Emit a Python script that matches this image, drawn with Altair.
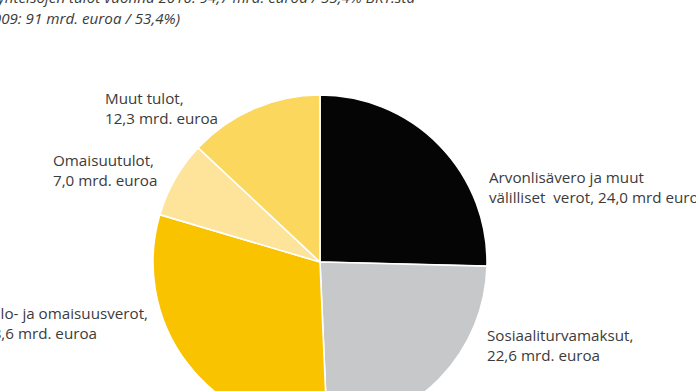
import altair as alt
import pandas as pd

# ---- data ----
categories = [
    "Arvonlisävero ja muut välilliset verot",
    "Sosiaaliturvamaksut",
    "Tulo- ja omaisuusverot",
    "Omaisuustulot",
    "Muut tulot",
]
values = [24.0, 22.6, 28.6, 7.0, 12.3]
colors = ["#050505", "#c6c8ca", "#f9c300", "#fde49a", "#fcd75e"]

label_line1 = ["Arvonlisävero ja muut", "Sosiaaliturvamaksut,", "Tulo- ja omaisuusverot,", "Omaisuutulot,", "Muut tulot,"]
label_line2 = ["välilliset\u00a0 verot, 24,0 mrd euroa", "22,6 mrd. euroa", "28,6 mrd. euroa", "7,0 mrd. euroa", "12,3 mrd. euroa"]

title_lines = [
    "Julkisyhteisöjen tulot vuonna 2010: 94,7 mrd. euroa / 55,4% BKT:sta",
    "(2009: 91 mrd. euroa / 53,4%)",
]

# ---- styling / layout (not data) ----
FONT = "Open Sans"
FS = 15.2
TXT = "#3b3b3b"
CX, CY, R = 320, 262, 167

pie_df = pd.DataFrame({"category": categories, "value": values, "order": list(range(len(values)))})

pie = alt.Chart(pie_df).mark_arc(outerRadius=R, stroke="white", strokeWidth=1.6).encode(
    theta=alt.Theta("value:Q", stack=True),
    color=alt.Color("category:N", scale=alt.Scale(domain=categories, range=colors), legend=None),
    order=alt.Order("order:Q"),
    x=alt.value(CX),
    y=alt.value(CY),
)


def txt(s, x, y, align="left", italic=False):
    return alt.Chart(pd.DataFrame({"t": [s]})).mark_text(
        align=align, baseline="alphabetic", font=FONT, fontSize=FS, color=TXT,
        fontStyle="italic" if italic else "normal",
    ).encode(text="t:N", x=alt.value(x), y=alt.value(y))


# label placement: (x, baseline1, baseline2, align, x2)
place = [
    (489, 183, 203, "left", 489),
    (487, 341, 361, "left", 487),
    (148, 319, 339, "right", 97),
    (53, 166, 186, "left", 53),
    (105, 104, 124, "left", 105),
]

layers = [pie]
for (x, y1, y2, al, x2), l1, l2 in zip(place, label_line1, label_line2):
    layers.append(txt(l1, x, y1, al))
    layers.append(txt(l2, x2, y2, al))

layers.append(txt(title_lines[0], 415, 3, "right", True))
layers.append(txt(title_lines[1], 180, 24, "right", True))

chart = alt.layer(*layers).properties(
    width=696, height=391, padding=0, autosize="none", background="white"
).configure_view(stroke=None)

chart.save("out.html", embed_options={"renderer": "svg", "actions": False})
